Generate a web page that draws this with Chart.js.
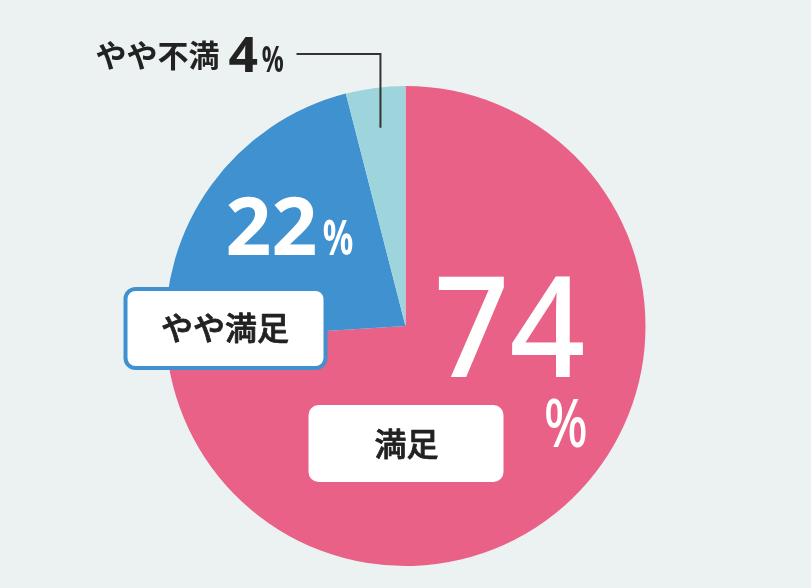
<!DOCTYPE html>
<html><head><meta charset="utf-8">
<script src="https://cdn.jsdelivr.net/npm/chart.js@4.4.0/dist/chart.umd.min.js"></script>
<style>
html,body{margin:0;padding:0;background:#ECF2F2;}
#wrap{width:811px;height:588px;position:relative;}
</style>
</head><body>
<div id="wrap"><canvas id="c" width="811" height="588"></canvas></div>
<script>
const categories = ['満足', 'やや満足', 'やや不満'];
const values = [74, 22, 4];
const valueLabels = ['74', '22', '4'];
const sliceColors = ['#E96186', '#3F91D0', '#9ED5DC'];

const JP = '"Noto Sans CJK JP", "Noto Sans", sans-serif';
const NUM = '"Noto Sans", "Roboto", sans-serif';

function fitText(ctx, text, x, y, font, color, targetW) {
  ctx.save();
  ctx.font = font;
  ctx.fillStyle = color;
  ctx.textBaseline = 'alphabetic';
  ctx.textAlign = 'left';
  const m = ctx.measureText(text);
  const inkW = m.actualBoundingBoxRight + m.actualBoundingBoxLeft;
  const s = targetW ? targetW / inkW : 1;
  ctx.translate(x, y);
  ctx.scale(s, 1);
  ctx.fillText(text, m.actualBoundingBoxLeft, 0);
  ctx.restore();
}
function centerText(ctx, text, x, y, font, color, strokeW) {
  ctx.save();
  ctx.font = font;
  ctx.fillStyle = color;
  ctx.textAlign = 'center';
  ctx.textBaseline = 'middle';
  ctx.fillText(text, x, y);
  if (strokeW) {
    ctx.strokeStyle = color;
    ctx.lineWidth = strokeW;
    ctx.lineJoin = 'round';
    ctx.strokeText(text, x, y);
  }
  ctx.restore();
}
function rrect(ctx, x, y, w, h, r) {
  ctx.beginPath();
  ctx.moveTo(x + r, y);
  ctx.arcTo(x + w, y, x + w, y + h, r);
  ctx.arcTo(x + w, y + h, x, y + h, r);
  ctx.arcTo(x, y + h, x, y, r);
  ctx.arcTo(x, y, x + w, y, r);
  ctx.closePath();
}

const labelPlugin = {
  id: 'labels',
  afterDatasetsDraw(chart) {
    const ctx = chart.ctx;
    const meta = chart.getDatasetMeta(0);
    const a = meta.data[0];
    const cx = a.x, cy = a.y, R = a.outerRadius;
    const k = R / 240;
    const X = dx => cx + dx * k, Y = dy => cy + dy * k;

    // 満足 (74%)
    fitText(ctx, valueLabels[0], X(33), Y(51), '500 140px ' + NUM, '#FFFFFF', 145 * k);
    fitText(ctx, '%', X(140), Y(121), '500 68px ' + NUM, '#FFFFFF', 40 * k);
    ctx.save();
    ctx.fillStyle = '#FFFFFF';
    rrect(ctx, X(-97), Y(79), 195 * k, 77 * k, 10 * k);
    ctx.fill();
    ctx.restore();
    centerText(ctx, categories[0], X(1), Y(118), '500 32px ' + JP, '#222222', 0.8);

    // やや満足 (22%)
    fitText(ctx, valueLabels[1], X(-177), Y(-71), 'bold 80px ' + NUM, '#FFFFFF', 87 * k);
    fitText(ctx, '%', X(-82), Y(-71), 'bold 48px ' + NUM, '#FFFFFF', 29 * k);
    ctx.save();
    ctx.fillStyle = '#FFFFFF';
    ctx.strokeStyle = sliceColors[1];
    ctx.lineWidth = 4;
    rrect(ctx, X(-280), Y(-37), 200 * k, 79 * k, 10 * k);
    ctx.fill();
    ctx.stroke();
    ctx.restore();
    centerText(ctx, categories[1], X(-180.5), Y(2), '500 32px ' + JP, '#222222', 0.8);

    // やや不満 (4%) with leader line
    const t = meta.data[2];
    const mid = (t.startAngle + t.endAngle) / 2;
    const px = cx + Math.cos(mid) * R * 0.833;
    const py = cy + Math.sin(mid) * R * 0.833;
    ctx.save();
    ctx.strokeStyle = '#333333';
    ctx.lineWidth = 2;
    ctx.beginPath();
    ctx.moveTo(X(-109), Y(-272));
    ctx.lineTo(px, Y(-272));
    ctx.lineTo(px, py);
    ctx.stroke();
    ctx.restore();
    centerText(ctx, categories[2], X(-248), Y(-271), 'bold 31px ' + JP, '#222222');
    fitText(ctx, valueLabels[2], X(-177), Y(-254), 'bold 48px ' + NUM, '#222222', 29 * k);
    fitText(ctx, '%', X(-143), Y(-254), 'bold 36px ' + NUM, '#222222', 21 * k);
  }
};

new Chart(document.getElementById('c'), {
  type: 'pie',
  data: {
    labels: categories,
    datasets: [{
      data: values,
      backgroundColor: sliceColors,
      borderWidth: 0
    }]
  },
  options: {
    responsive: false,
    animation: false,
    devicePixelRatio: 1,
    layout: { padding: { top: 86, bottom: 22, left: 0, right: 0 } },
    plugins: { legend: { display: false }, tooltip: { enabled: false } }
  },
  plugins: [labelPlugin]
});
</script>
</body></html>
